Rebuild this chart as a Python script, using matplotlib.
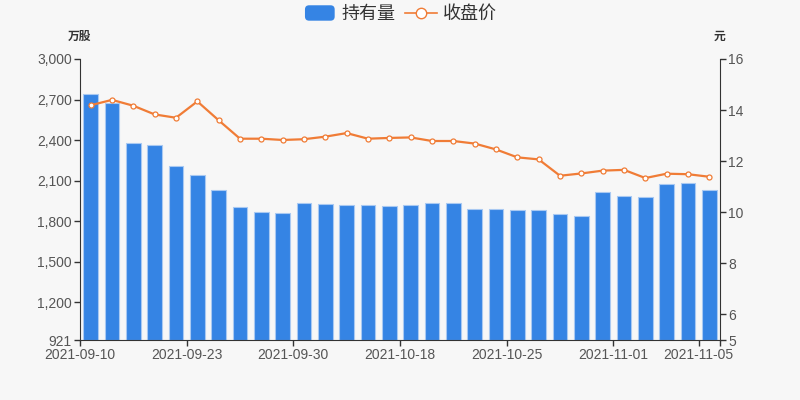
import matplotlib
matplotlib.use("Agg")
import matplotlib.pyplot as plt
from matplotlib.ticker import FuncFormatter
from matplotlib.lines import Line2D
from matplotlib.patches import FancyBboxPatch
from matplotlib.legend_handler import HandlerPatch

plt.rcParams['font.family'] = ['Liberation Sans', 'Noto Sans CJK SC']

# data
dates = ["2021-09-10", "2021-09-13", "2021-09-15", "2021-09-17", "2021-09-22",
         "2021-09-23", "2021-09-24", "2021-09-27", "2021-09-28", "2021-09-29",
         "2021-09-30", "2021-10-08", "2021-10-11", "2021-10-13", "2021-10-15",
         "2021-10-18", "2021-10-19", "2021-10-20", "2021-10-21", "2021-10-22",
         "2021-10-25", "2021-10-26", "2021-10-27", "2021-10-28", "2021-10-29",
         "2021-11-01", "2021-11-02", "2021-11-03", "2021-11-04", "2021-11-05"]
holdings = [2739, 2672, 2381, 2361, 2210, 2142, 2031, 1903, 1866, 1858,
            1932, 1927, 1922, 1922, 1912, 1922, 1934, 1934, 1888, 1892,
            1885, 1880, 1855, 1838, 2018, 1989, 1981, 2077, 2085, 2033]
close_price = [14.19, 14.40, 14.17, 13.83, 13.70, 14.34, 13.60, 12.88, 12.88, 12.83,
               12.86, 12.96, 13.10, 12.88, 12.91, 12.93, 12.79, 12.79, 12.69, 12.46,
               12.15, 12.07, 11.43, 11.52, 11.63, 11.66, 11.34, 11.51, 11.49, 11.39]
left_ticks = [921, 1200, 1500, 1800, 2100, 2400, 2700, 3000]
right_ticks = [5, 6, 8, 10, 12, 14, 16]
label_idx = [0, 5, 10, 15, 20, 25, 29]

bg = "#f7f7f7"
bar_color = "#3584e4"
line_color = "#f07c36"
txt = "#555555"
axis_c = "#333333"

fig = plt.figure(figsize=(8, 4), dpi=100, facecolor=bg)
ax = fig.add_axes([0.1, 0.15, 0.8, 0.7025])
ax.set_facecolor(bg)
ax2 = ax.twinx()

x = list(range(len(dates)))
ax.bar(x, [h - left_ticks[0] for h in holdings], bottom=left_ticks[0], width=0.7,
       color=bar_color, edgecolor="#a9c9f2", linewidth=0.8, zorder=2)
ax2.plot(x, close_price, color=line_color, linewidth=1.6, marker="o", markersize=3.6,
         markerfacecolor="white", markeredgecolor=line_color, markeredgewidth=0.9, zorder=3)

ax.set_xlim(-0.5, len(dates) - 0.5)
ax.set_ylim(left_ticks[0], left_ticks[-1])
ax2.set_ylim(right_ticks[0], right_ticks[-1])

ax.set_yticks(left_ticks)
ax.yaxis.set_major_formatter(FuncFormatter(lambda v, p: f"{int(v):,}"))
ax2.set_yticks(right_ticks)

xt = [i - 0.5 for i in label_idx] + [len(dates) - 0.5]
ax.set_xticks(xt)
ax.set_xticklabels([dates[i] for i in label_idx] + [""])

for a in (ax, ax2):
    for s in a.spines.values():
        s.set_color(axis_c)
    a.spines["top"].set_visible(False)
    a.tick_params(colors=txt, labelsize=10, length=4, width=1, color=axis_c, pad=2)
ax.spines["right"].set_visible(False)
ax2.spines["left"].set_visible(False)
ax2.spines["bottom"].set_visible(False)

fig.text(0.1, 0.907, "万股", ha="center", va="center", fontsize=8.5,
         fontweight="bold", color=axis_c)
fig.text(0.9, 0.907, "元", ha="center", va="center", fontsize=8.5,
         fontweight="bold", color=axis_c)


class RoundBox(HandlerPatch):
    def create_artists(self, legend, orig, xd, yd, w, h, fs, trans):
        p = FancyBboxPatch((-xd + 1, -yd - 1), w - 2, h + 2,
                           boxstyle="round,pad=0,rounding_size=3",
                           facecolor=bar_color, edgecolor="none", transform=trans)
        return [p]


handles = [FancyBboxPatch((0, 0), 1, 1, facecolor=bar_color),
           Line2D([], [], color=line_color, marker="o", markersize=7.5,
                  markerfacecolor="white", markeredgecolor=line_color,
                  markeredgewidth=1, linewidth=1.2)]
fig.legend(handles, ["持有量", "收盘价"], loc="center", bbox_to_anchor=(0.5, 0.963),
           ncol=2, frameon=False, fontsize=13, handlelength=1.8, handletextpad=0.3,
           columnspacing=0.5, labelcolor="#333333",
           handler_map={FancyBboxPatch: RoundBox()})

fig.savefig("out.png", dpi=100, facecolor=bg)
